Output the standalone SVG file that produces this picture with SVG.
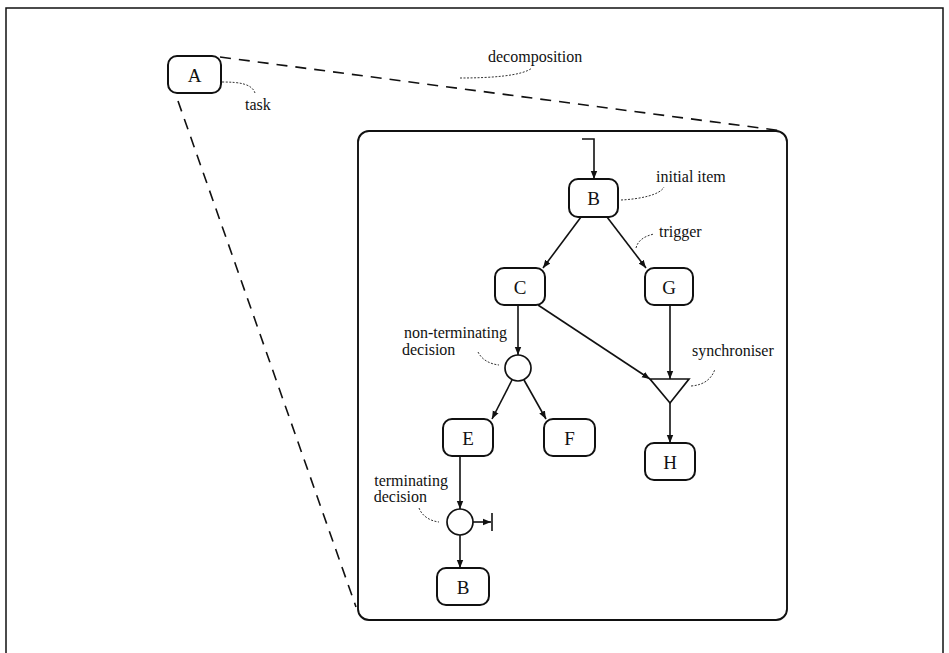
<svg xmlns="http://www.w3.org/2000/svg" width="949" height="653" viewBox="0 0 949 653">
<defs>
<marker id="ah" viewBox="0 0 10 10" refX="10" refY="5" markerWidth="8" markerHeight="8" markerUnits="userSpaceOnUse" orient="auto"><path d="M0,1 L10,5 L0,9 z" fill="#111"/></marker>
<style>
.node rect{fill:#fff;stroke:#111;stroke-width:2}
.node text{font-family:"Liberation Serif",serif;font-size:19px;fill:#111;text-anchor:middle}
.lbl{font-family:"Liberation Serif",serif;font-size:16px;fill:#111}
.conn line,.conn path.c{stroke:#111;stroke-width:1.6;fill:none}
.lead{stroke:#333;stroke-width:1;stroke-dasharray:2 1.5;fill:none}
.dash{stroke:#111;stroke-width:1.6;stroke-dasharray:11 8;fill:none}
.dec{fill:#fff;stroke:#111;stroke-width:1.7}
</style>
</defs>
<rect width="949" height="653" fill="#fff"/>
<rect x="6" y="8" width="937" height="660" fill="none" stroke="#111" stroke-width="1.5"/>
<rect id="subframe" x="358" y="131" width="429" height="489" rx="11" fill="none" stroke="#111" stroke-width="1.9"/>
<g id="decomposition-lines">
<line class="dash" x1="220" y1="57" x2="783" y2="131"/>
<line class="dash" x1="178" y1="101" x2="356" y2="607"/>
</g>
<g id="node-A" class="node"><rect x="168" y="56" width="53" height="37" rx="9"/><text x="194.5" y="81.5">A</text></g>
<g id="node-B1" class="node"><rect x="569" y="179" width="49" height="38" rx="9"/><text x="593.5" y="204.5">B</text></g>
<g id="node-C" class="node"><rect x="495" y="268" width="50" height="37" rx="9"/><text x="520" y="293.5">C</text></g>
<g id="node-G" class="node"><rect x="645" y="268" width="48" height="37" rx="9"/><text x="669" y="293.5">G</text></g>
<g id="node-E" class="node"><rect x="443" y="419" width="50" height="37" rx="9"/><text x="468" y="444.5">E</text></g>
<g id="node-F" class="node"><rect x="544" y="419" width="51" height="37" rx="9"/><text x="569.5" y="444.5">F</text></g>
<g id="node-H" class="node"><rect x="645" y="443" width="50" height="37" rx="9"/><text x="670" y="468.5">H</text></g>
<g id="node-B2" class="node"><rect x="437" y="568" width="52" height="37" rx="9"/><text x="463" y="593.5">B</text></g>
<g id="decision-nonterm"><circle class="dec" cx="518" cy="368" r="13"/></g>
<g id="decision-term"><circle class="dec" cx="460" cy="522" r="13"/></g>
<g id="synchroniser"><polygon class="dec" points="650,379 689,379 670,403"/></g>
<g id="connectors" class="conn">
<path class="c" d="M582,139 L594,139 L594,179" marker-end="url(#ah)"/>
<line x1="581" y1="217" x2="543" y2="268" marker-end="url(#ah)"/>
<line x1="607" y1="217" x2="646" y2="268" marker-end="url(#ah)"/>
<line x1="518" y1="305" x2="518" y2="355" marker-end="url(#ah)"/>
<line x1="538" y1="305" x2="650" y2="379" marker-end="url(#ah)"/>
<line x1="670" y1="305" x2="670" y2="379" marker-end="url(#ah)"/>
<line x1="670" y1="403" x2="670" y2="443" marker-end="url(#ah)"/>
<line x1="512" y1="380" x2="492" y2="419" marker-end="url(#ah)"/>
<line x1="524" y1="380" x2="546" y2="419" marker-end="url(#ah)"/>
<line x1="460" y1="456" x2="460" y2="509" marker-end="url(#ah)"/>
<line x1="460" y1="535" x2="460" y2="568" marker-end="url(#ah)"/>
<line x1="473" y1="522" x2="491" y2="522" marker-end="url(#ah)"/>
<line x1="492" y1="513" x2="492" y2="531"/>
</g>
<g id="annotations">
<text class="lbl" x="488" y="62">decomposition</text>
<path class="lead" d="M460,78 C490,78 522,76 532,68"/>
<text class="lbl" x="245" y="110">task</text>
<path class="lead" d="M222,82 C240,82 252,84 255,93"/>
<text class="lbl" x="656" y="182">initial item</text>
<path class="lead" d="M621,200 C640,199 660,195 664,187"/>
<text class="lbl" x="659" y="237">trigger</text>
<path class="lead" d="M636,248 C638,240 645,236 654,234"/>
<text class="lbl" x="507" y="338" text-anchor="end">non-terminating</text>
<text class="lbl" x="402" y="355">decision</text>
<path class="lead" d="M478,352 C482,360 490,364 499,365"/>
<text class="lbl" x="692" y="356">synchroniser</text>
<path class="lead" d="M691,386 C705,385 712,378 715,369"/>
<text class="lbl" x="448" y="486" text-anchor="end">terminating</text>
<text class="lbl" x="427" y="502" text-anchor="end">decision</text>
<path class="lead" d="M419,508 C422,516 430,521 439,522"/>
</g>
</svg>
